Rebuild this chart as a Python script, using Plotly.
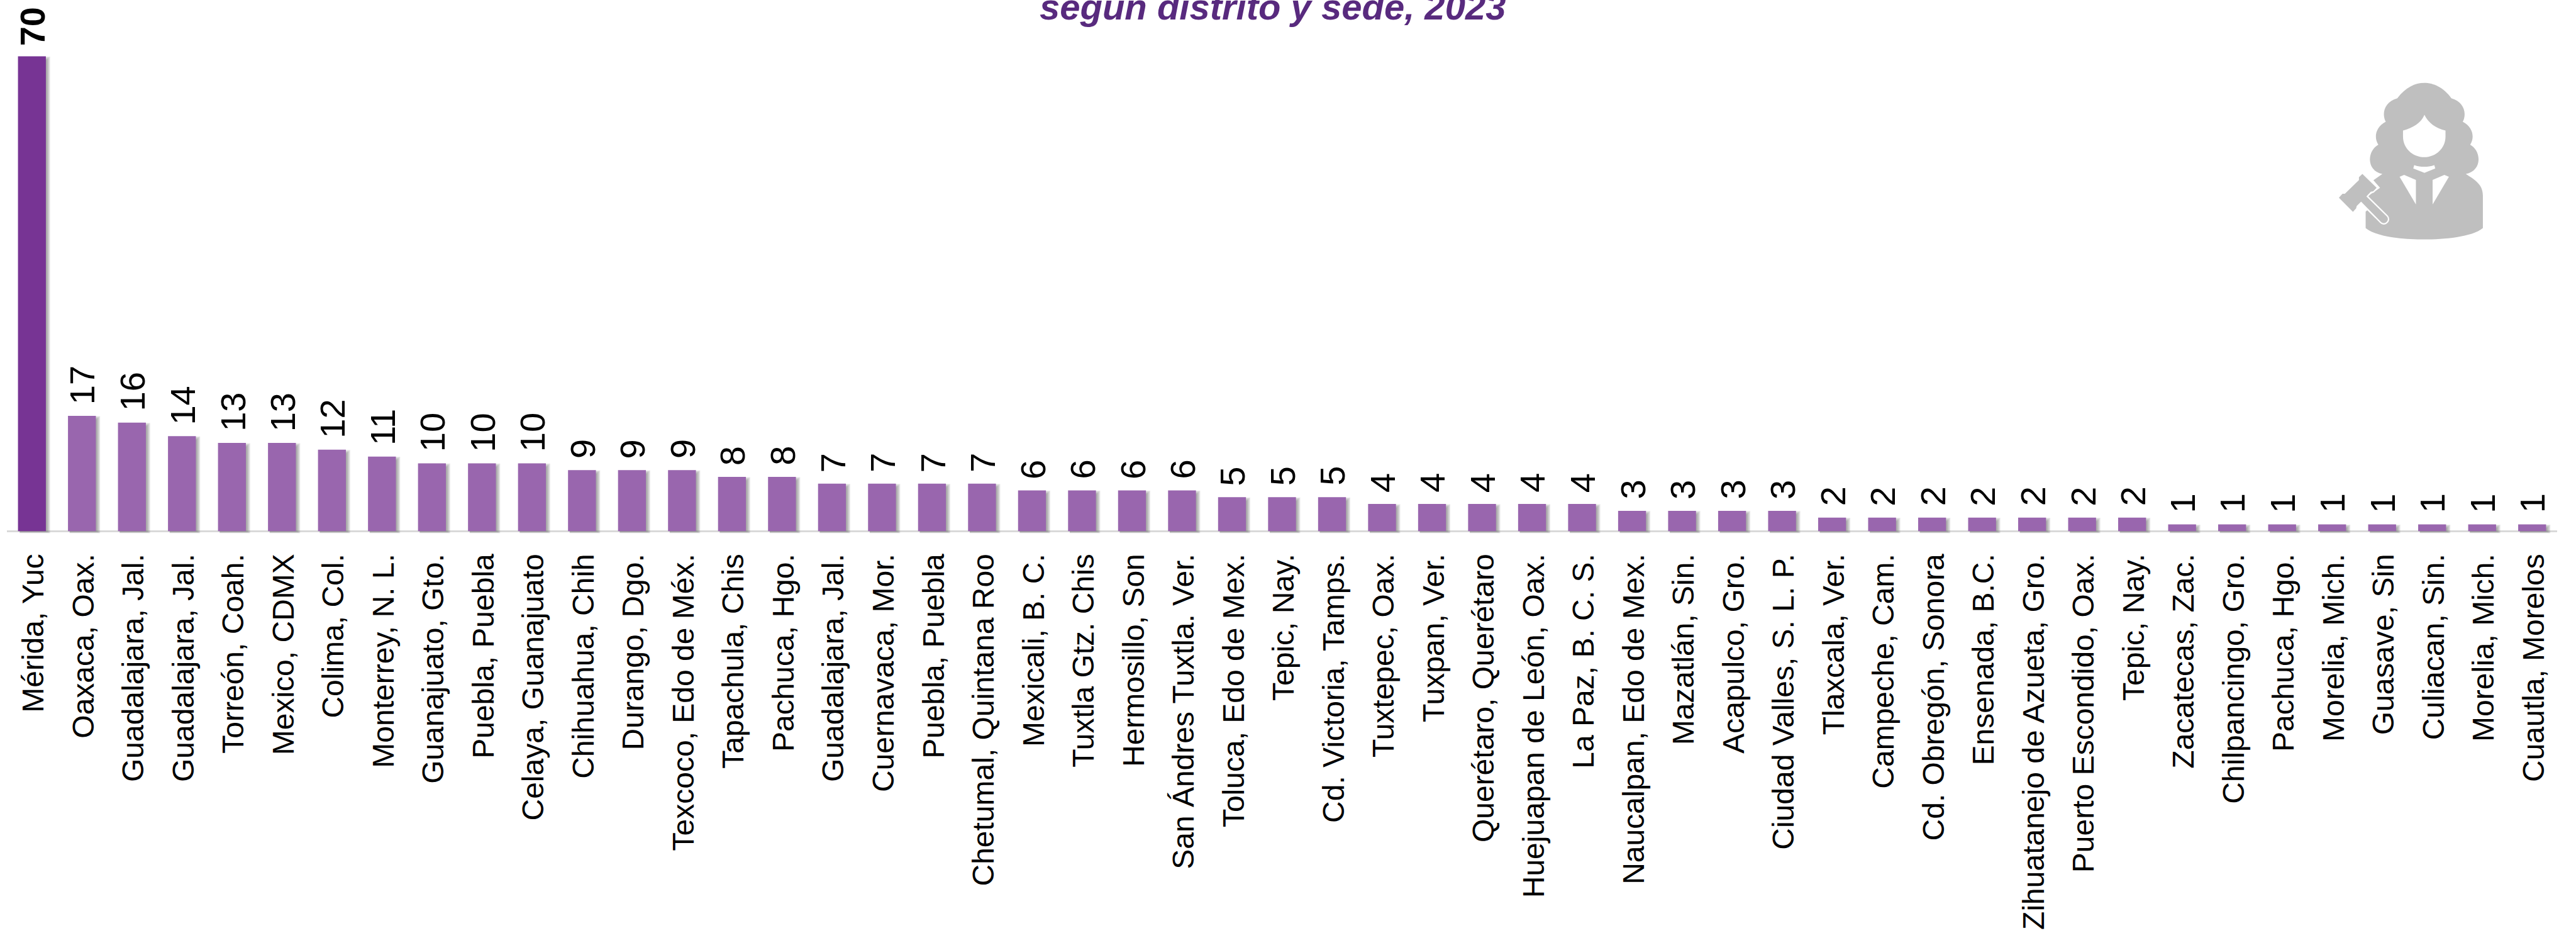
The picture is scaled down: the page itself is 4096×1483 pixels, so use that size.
import re
import plotly.graph_objects as go

sedes = ["Mérida, Yuc", "Oaxaca, Oax.", "Guadalajara, Jal.", "Guadalajara, Jal.", "Torreón, Coah.", "Mexico, CDMX",
         "Colima, Col.", "Monterrey, N. L.", "Guanajuato, Gto.", "Puebla, Puebla", "Celaya, Guanajuato",
         "Chihuahua, Chih", "Durango, Dgo.", "Texcoco, Edo de Méx.", "Tapachula, Chis", "Pachuca, Hgo.",
         "Guadalajara, Jal.", "Cuernavaca, Mor.", "Puebla, Puebla", "Chetumal, Quintana Roo", "Mexicali, B. C.",
         "Tuxtla Gtz. Chis", "Hermosillo, Son", "San Ándres Tuxtla. Ver.", "Toluca, Edo de Mex.", "Tepic, Nay.",
         "Cd. Victoria, Tamps.", "Tuxtepec, Oax.", "Tuxpan, Ver.", "Querétaro, Querétaro", "Huejuapan de León, Oax.",
         "La Paz, B. C. S.", "Naucalpan, Edo de Mex.", "Mazatlán, Sin.", "Acapulco, Gro.", "Ciudad Valles, S. L. P.",
         "Tlaxcala, Ver.", "Campeche, Cam.", "Cd. Obregón, Sonora", "Ensenada, B.C.", "Zihuatanejo de Azueta, Gro.",
         "Puerto Escondido, Oax.", "Tepic, Nay.", "Zacatecas, Zac.", "Chilpancingo, Gro.", "Pachuca, Hgo.",
         "Morelia, Mich.", "Guasave, Sin", "Culiacan, Sin.", "Morelia, Mich.", "Cuautla, Morelos"]
valores = [70, 17, 16, 14, 13, 13, 12, 11, 10, 10, 10, 9, 9, 9, 8, 8, 7, 7, 7, 7, 6, 6, 6, 6, 5, 5, 5, 4, 4, 4, 4, 4,
           3, 3, 3, 3, 2, 2, 2, 2, 2, 2, 2, 1, 1, 1, 1, 1, 1, 1, 1]
titulo = "según distrito y sede, 2023"

W, H = 4096, 1483
SC = 0.905
PL, PR = 10.5, 4066.0      # plot edges in px
BASE_PX = 933 * SC
UNIT_PX = 11.914 * SC
Y_MIN, Y_MAX = -1.0, 72.0
PT = BASE_PX - Y_MAX * UNIT_PX
PB = BASE_PX - Y_MIN * UNIT_PX
CAT_REF = 87.86            # category width in reference px
BAR_W = 49 / CAT_REF

xs = list(range(len(valores)))
fig = go.Figure()

# soft drop shadow, right and below each bar
for e in [7.5, 6, 4.5, 3, 1.5]:
    drop = (8 - e) / 11.914
    below = e * 0.5 / 11.914
    fig.add_trace(go.Bar(
        x=xs,
        y=[max(v - drop, 0.1) + below for v in valores],
        base=[-below] * len(valores),
        width=BAR_W + e / CAT_REF - 3 / CAT_REF,
        offset=-BAR_W / 2 + 3 / CAT_REF,
        marker=dict(color="#707070", opacity=0.17, line_width=0),
        hoverinfo="skip", showlegend=False,
    ))

fig.add_trace(go.Bar(
    x=xs, y=valores, width=BAR_W,
    marker=dict(color=["#773494"] + ["#9966AE"] * (len(valores) - 1), line_width=0),
    showlegend=False,
))

annotations = []
for i, v in zip(xs, valores):
    annotations.append(dict(
        x=i, y=v, xref="x", yref="y", text=f"<b>{v}</b>" if i == 0 else str(v), showarrow=False,
        textangle=-90, xanchor="center", yanchor="bottom", xshift=1, yshift=14 if i == 0 else 16,
        font=dict(family="Liberation Sans", size=56, color="black"),
    ))
annotations.append(dict(
    x=(2236 * SC - PL) / (PR - PL), y=1, xref="paper", yref="paper", text=f"<b><i>{titulo}</i></b>",
    showarrow=False, xanchor="center", yanchor="middle", yshift=PT - 11,
    font=dict(family="Liberation Sans", size=58, color="#582A7E"),
))

# judge icon, coordinates in the 3x crop of the reference
def ipath(d):
    def conv(m):
        x, y = float(m.group(1)), float(m.group(2))
        px = (4000 + x / 3) * SC
        py = (100 + y / 3) * SC
        return f"{(px - PL) / (PR - PL):.6f},{1 - (py - PT) / (PB - PT):.6f}"
    return re.sub(r"(-?\d+\.?\d*) (-?\d+\.?\d*)", conv, d)

GRAY = "#BFBFBF"
hair = ("M 636 218 C 680 160 730 137 778 137 C 826 137 880 160 921 218 C 985 235 1005 295 981 342 "
        "C 1035 370 1045 425 1020 463 C 1080 495 1085 600 997 617 C 1040 645 1087 670 1087 730 L 1087 902 "
        "C 1030 950 880 962 778 962 C 676 962 526 950 469 902 L 469 815 L 478 808 L 520 850 L 560 815 "
        "L 478 735 L 545 690 L 510 650 L 557 617 C 471 600 476 495 536 463 "
        "C 511 425 521 370 575 342 C 551 295 571 235 636 218 Z")
face = ("M 666 388 C 720 372 760 350 779 305 C 800 350 840 375 890 388 L 890 420 C 890 480 840 528 778 528 "
        "C 716 528 666 480 666 420 Z")
collar = "M 725 570 C 760 582 796 582 831 570 L 836 588 L 779 611 L 720 588 Z"
lapel_l = "M 648 632 L 672 622 L 734 648 L 734 778 Z"
lapel_r = "M 908 632 L 884 622 L 822 648 L 822 778 Z"
gavel = ("M 452 612 L 532 690 L 510 712 L 498 714 L 478 735 L 583 838 C 605 860 570 895 548 873 L 445 768 "
         "L 425 788 L 422 800 L 402 822 L 323 742 L 345 718 L 358 718 L 430 648 L 430 632 Z")
shapes = [
    dict(type="path", xref="paper", yref="paper", path=ipath(hair), fillcolor=GRAY, line_width=0, layer="above"),
    *[dict(type="path", xref="paper", yref="paper", path=ipath(p), fillcolor="white", line_width=0, layer="above")
      for p in (face, collar, lapel_l, lapel_r)],
    dict(type="path", xref="paper", yref="paper", path=ipath(gavel), fillcolor=GRAY,
         line=dict(color="white", width=2.2), layer="above"),
]

fig.update_layout(
    width=W, height=H, barmode="overlay", showlegend=False,
    paper_bgcolor="white", plot_bgcolor="white",
    margin=dict(l=PL, r=W - PR, t=PT, b=H - PB, pad=0, autoexpand=False),
    font=dict(family="Liberation Sans", color="black"),
    annotations=annotations, shapes=shapes,
    xaxis=dict(
        range=[-0.5, len(valores) - 0.5], tickmode="array", tickvals=xs, ticktext=sedes, tickangle=-90,
        ticks="outside", ticklen=5, tickcolor="rgba(0,0,0,0)", tickwidth=1, showline=False, showgrid=False,
        zeroline=False, automargin=False, ticklabelshift=3,
        tickfont=dict(family="Liberation Sans", size=48, color="black"),
    ),
    yaxis=dict(
        range=[Y_MIN, Y_MAX], visible=True, showticklabels=False, ticks="", showgrid=False, showline=False,
        zeroline=True, zerolinecolor="#D9D9D9", zerolinewidth=3, automargin=False,
    ),
)

fig.write_html("out.html", config={"displayModeBar": False},
               post_script="document.body.style.margin='0';document.body.style.overflow='hidden';")
